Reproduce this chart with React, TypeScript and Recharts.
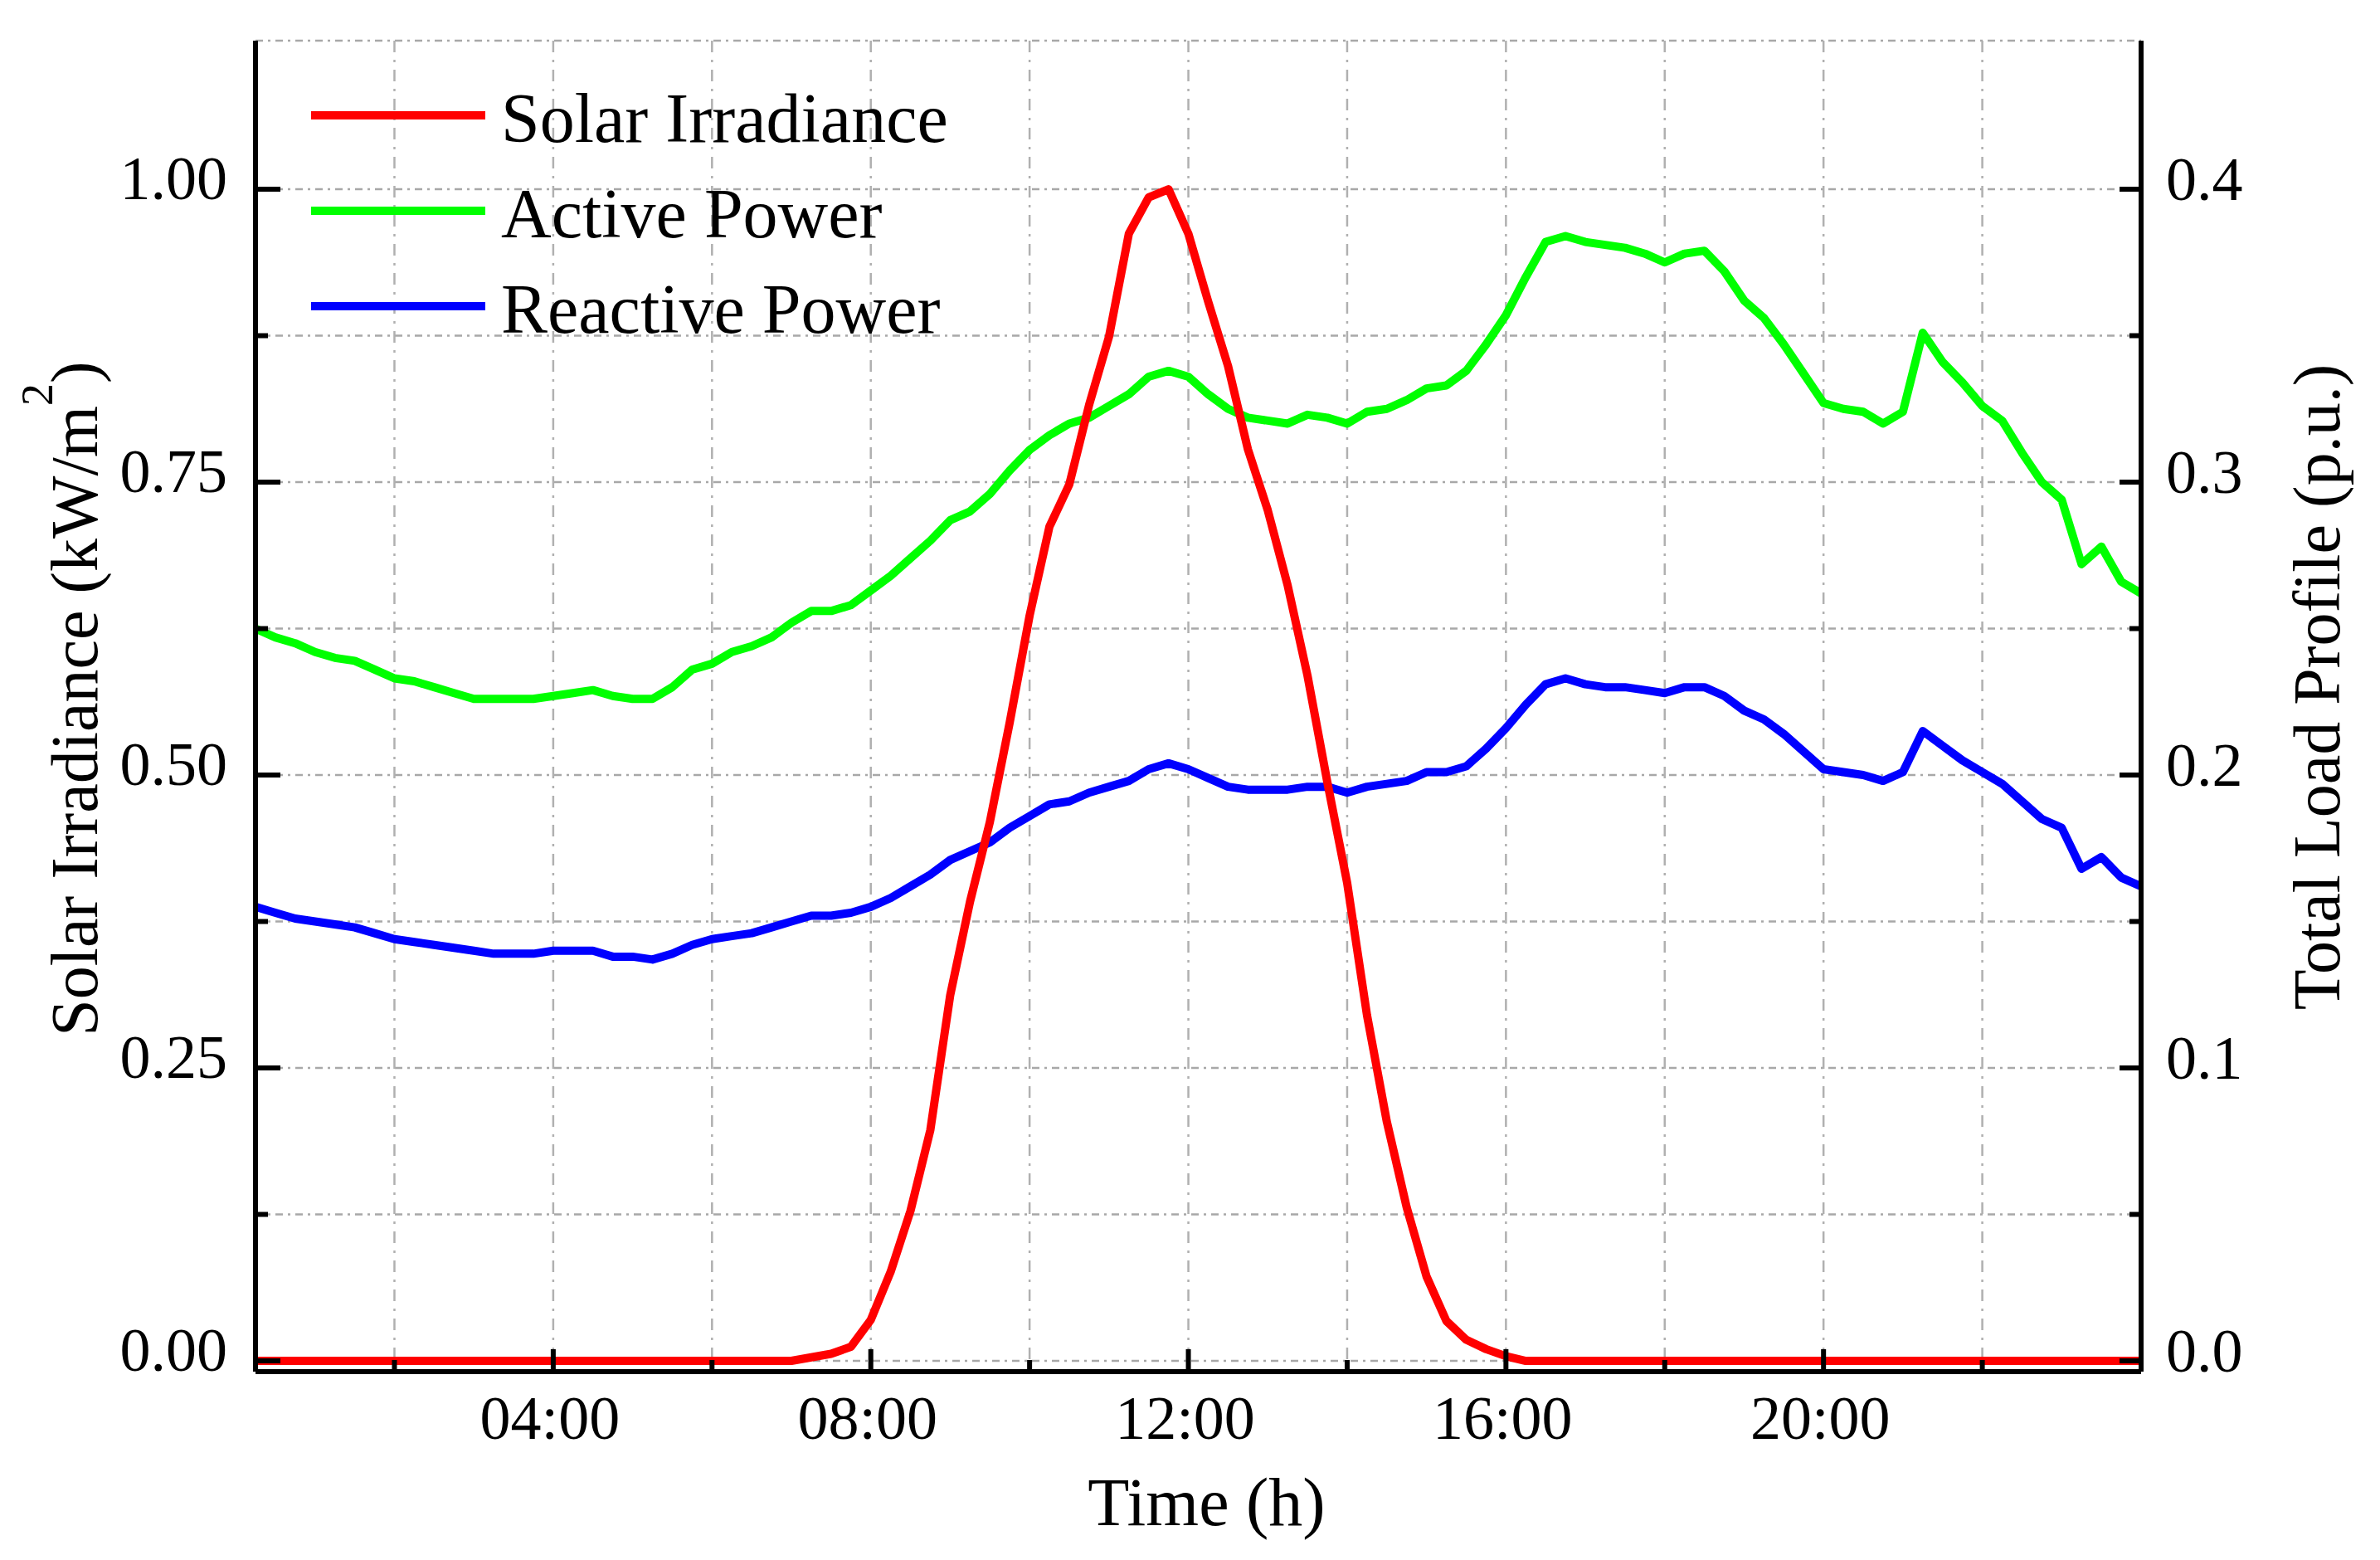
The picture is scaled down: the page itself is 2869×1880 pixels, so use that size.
import React from "react";
import { CartesianGrid, Legend, Line, LineChart, XAxis, YAxis } from "recharts";

const FONT = '"Liberation Serif", "Times New Roman", serif';

// time of day in hours, 15-min steps
const hours = [
  0.25, 0.5, 0.75, 1,
  1.25, 1.5, 1.75, 2,
  2.25, 2.5, 2.75, 3,
  3.25, 3.5, 3.75, 4,
  4.25, 4.5, 4.75, 5,
  5.25, 5.5, 5.75, 6,
  6.25, 6.5, 6.75, 7,
  7.25, 7.5, 7.75, 8,
  8.25, 8.5, 8.75, 9,
  9.25, 9.5, 9.75, 10,
  10.25, 10.5, 10.75, 11,
  11.25, 11.5, 11.75, 12,
  12.25, 12.5, 12.75, 13,
  13.25, 13.5, 13.75, 14,
  14.25, 14.5, 14.75, 15,
  15.25, 15.5, 15.75, 16,
  16.25, 16.5, 16.75, 17,
  17.25, 17.5, 17.75, 18,
  18.25, 18.5, 18.75, 19,
  19.25, 19.5, 19.75, 20,
  20.25, 20.5, 20.75, 21,
  21.25, 21.5, 21.75, 22,
  22.25, 22.5, 22.75, 23,
  23.25, 23.5, 23.75, 24,
];

// kW/m2
const solarIrradiance = [
  0, 0, 0, 0,
  0, 0, 0, 0,
  0, 0, 0, 0,
  0, 0, 0, 0,
  0, 0, 0, 0,
  0, 0, 0, 0,
  0, 0, 0, 0,
  0.003, 0.006, 0.012, 0.035,
  0.076, 0.128, 0.197, 0.312,
  0.392, 0.46, 0.545, 0.636,
  0.712, 0.748, 0.816, 0.874,
  0.962, 0.993, 1.0, 0.962,
  0.904, 0.849, 0.778, 0.726,
  0.662, 0.585, 0.494, 0.408,
  0.295, 0.204, 0.131, 0.072,
  0.034, 0.018, 0.01, 0.004,
  0, 0, 0, 0,
  0, 0, 0, 0,
  0, 0, 0, 0,
  0, 0, 0, 0,
  0, 0, 0, 0,
  0, 0, 0, 0,
  0, 0, 0, 0,
  0, 0, 0, 0,
];

// p.u.
const activePower = [
  0.25, 0.247, 0.245, 0.242,
  0.24, 0.239, 0.236, 0.233,
  0.232, 0.23, 0.228, 0.226,
  0.226, 0.226, 0.226, 0.227,
  0.228, 0.229, 0.227, 0.226,
  0.226, 0.23, 0.236, 0.238,
  0.242, 0.244, 0.247, 0.252,
  0.256, 0.256, 0.258, 0.263,
  0.268, 0.274, 0.28, 0.287,
  0.29, 0.296, 0.304, 0.311,
  0.316, 0.32, 0.322, 0.326,
  0.33, 0.336, 0.338, 0.336,
  0.33, 0.325, 0.322, 0.321,
  0.32, 0.323, 0.322, 0.32,
  0.324, 0.325, 0.328, 0.332,
  0.333, 0.338, 0.347, 0.357,
  0.37, 0.382, 0.384, 0.382,
  0.381, 0.38, 0.378, 0.375,
  0.378, 0.379, 0.372, 0.362,
  0.356, 0.347, 0.337, 0.327,
  0.325, 0.324, 0.32, 0.324,
  0.351, 0.341, 0.334, 0.326,
  0.321, 0.31, 0.3, 0.294,
  0.272, 0.278, 0.266, 0.262,
];

// p.u.
const reactivePower = [
  0.155, 0.153, 0.151, 0.15,
  0.149, 0.148, 0.146, 0.144,
  0.143, 0.142, 0.141, 0.14,
  0.139, 0.139, 0.139, 0.14,
  0.14, 0.14, 0.138, 0.138,
  0.137, 0.139, 0.142, 0.144,
  0.145, 0.146, 0.148, 0.15,
  0.152, 0.152, 0.153, 0.155,
  0.158, 0.162, 0.166, 0.171,
  0.174, 0.177, 0.182, 0.186,
  0.19, 0.191, 0.194, 0.196,
  0.198, 0.202, 0.204, 0.202,
  0.199, 0.196, 0.195, 0.195,
  0.195, 0.196, 0.196, 0.194,
  0.196, 0.197, 0.198, 0.201,
  0.201, 0.203, 0.209, 0.216,
  0.224, 0.231, 0.233, 0.231,
  0.23, 0.23, 0.229, 0.228,
  0.23, 0.23, 0.227, 0.222,
  0.219, 0.214, 0.208, 0.202,
  0.201, 0.2, 0.198, 0.201,
  0.215, 0.21, 0.205, 0.201,
  0.197, 0.191, 0.185, 0.182,
  0.168, 0.172, 0.165, 0.162,
];

const xTicks = [2, 4, 6, 8, 10, 12, 14, 16, 18, 20, 22];
const xTickLabels: Record<number, string> = { 4: "04:00", 8: "08:00", 12: "12:00", 16: "16:00", 20: "20:00" };
const leftTicks = [0, 0.125, 0.25, 0.375, 0.5, 0.625, 0.75, 0.875, 1.0];
const leftLabelled = [0, 0.25, 0.5, 0.75, 1.0];
const rightTicks = [0, 0.05, 0.1, 0.15, 0.2, 0.25, 0.3, 0.35, 0.4];
const rightLabelled = [0, 0.1, 0.2, 0.3, 0.4];
const legendOrder = ["solar", "active", "reactive"];

const rows = hours.map((t, i) => ({
  t,
  solar: solarIrradiance[i],
  active: activePower[i],
  reactive: reactivePower[i],
}));

const W = 2869;
const H = 1880;
const AXIS = 6;
const LINE_W = 10;

function BottomTick(props: any) {
  const { x, y, payload } = props;
  const label = xTickLabels[payload.value];
  return (
    <g>
      <line x1={x} x2={x} y1={y} y2={y - (label ? 27 : 14)} stroke="#000" strokeWidth={AXIS} />
      {label && (
        <text x={x - 4} y={y + 81} textAnchor="middle" fontSize={74} fontFamily={FONT} fill="#000">
          {label}
        </text>
      )}
    </g>
  );
}

function TopTick(props: any) {
  const { x, y } = props;
  return <line x1={x} x2={x} y1={y} y2={y + 27} stroke="#000" strokeWidth={AXIS} />;
}

function LeftTick(props: any) {
  const { x, y, payload } = props;
  const v = payload.value;
  const major = leftLabelled.some((m) => Math.abs(m - v) < 1e-6);
  return (
    <g>
      <line x1={x} x2={x + (major ? 30 : 15)} y1={y} y2={y} stroke="#000" strokeWidth={AXIS} />
      {major && (
        <text x={x - 34} y={y + 12} textAnchor="end" fontSize={74} fontFamily={FONT} fill="#000">
          {v.toFixed(2)}
        </text>
      )}
    </g>
  );
}

function RightTick(props: any) {
  const { x, y, payload } = props;
  const v = payload.value;
  const major = rightLabelled.some((m) => Math.abs(m - v) < 1e-6);
  return (
    <g>
      <line x1={x} x2={x - (major ? 26 : 14)} y1={y} y2={y} stroke="#000" strokeWidth={AXIS} />
      {major && (
        <text x={x + 30} y={y + 13} textAnchor="start" fontSize={74} fontFamily={FONT} fill="#000">
          {v.toFixed(1)}
        </text>
      )}
    </g>
  );
}

function renderLegend(props: any) {
  const items = [...(props.payload ?? [])].sort(
    (a: any, b: any) => legendOrder.indexOf(a.dataKey) - legendOrder.indexOf(b.dataKey),
  );
  return (
    <svg width={720} height={340} style={{ overflow: "visible" }}>
      {items.map((e: any, i: number) => (
        <g key={e.dataKey}>
          <line x1={15} x2={225} y1={59 + 115 * i} y2={59 + 115 * i} stroke={e.color} strokeWidth={LINE_W} />
          <text x={244} y={91 + 115 * i} fontSize={84} fontFamily={FONT} fill="#000">
            {e.value}
          </text>
        </g>
      ))}
    </svg>
  );
}

const timeTitle = (p: any) => {
  const vb = p.viewBox ?? { x: 308, y: 1653, width: 2273, height: 227 };
  return (
    <text x={vb.x + vb.width / 2 + 10} y={vb.y + 185} textAnchor="middle" fontSize={82} fontFamily={FONT} fill="#000">
      Time (h)
    </text>
  );
};

const leftTitle = (p: any) => {
  const vb = p.viewBox ?? { x: 0, y: 49, width: 308, height: 1604 };
  const cx = vb.x + 117;
  const cy = vb.y + vb.height / 2 - 9;
  return (
    <text transform={`translate(${cx},${cy}) rotate(-90)`} textAnchor="middle" fontSize={80} fontFamily={FONT} fill="#000">
      Solar Irradiance (kW/m
      <tspan dy={-54} fontSize={54}>
        2
      </tspan>
      <tspan dy={54}>)</tspan>
    </text>
  );
};

const rightTitle = (p: any) => {
  const vb = p.viewBox ?? { x: 2581, y: 49, width: 288, height: 1604 };
  const cx = vb.x + 239;
  const cy = vb.y + vb.height / 2 - 23;
  return (
    <text transform={`translate(${cx},${cy}) rotate(-90)`} textAnchor="middle" fontSize={80} fontFamily={FONT} fill="#000">
      Total Load Profile (p.u.)
    </text>
  );
};

export default function App() {
  return (
    <div style={{ position: "absolute", left: 0, top: 0, width: W, height: H, background: "#fff", fontFamily: FONT }}>
      <LineChart width={W} height={H} data={rows} margin={{ top: 49, right: 0, bottom: 0, left: 0 }}>
        <CartesianGrid
          xAxisId="bottom"
          yAxisId="left"
          vertical={false}
          stroke="#a8a8a8"
          strokeWidth={2.5}
          strokeDasharray="9 6 3 6"
        />
        <CartesianGrid
          xAxisId="bottom"
          yAxisId="left"
          horizontal={false}
          stroke="#b0b0b0"
          strokeWidth={2.5}
          strokeDasharray="14 9 3 9"
        />
        <XAxis
          xAxisId="bottom"
          dataKey="t"
          type="number"
          domain={[0.25, 24]}
          ticks={xTicks}
          interval={0}
          height={227}
          allowDataOverflow
          axisLine={{ stroke: "#000", strokeWidth: AXIS }}
          tickLine={false}
          tickSize={0}
          tickMargin={0}
          tick={<BottomTick />}
          label={{ content: timeTitle }}
        />
        <XAxis
          xAxisId="top"
          orientation="top"
          dataKey="t"
          type="number"
          domain={[0.25, 24]}
          ticks={xTicks}
          interval={0}
          height={0}
          allowDataOverflow
          axisLine={{ stroke: "#000", strokeWidth: AXIS }}
          tickLine={false}
          tickSize={0}
          tickMargin={0}
          tick={<TopTick />}
        />
        <YAxis
          yAxisId="left"
          width={308}
          type="number"
          domain={[-0.0092, 1.1268]}
          ticks={leftTicks}
          interval={0}
          allowDataOverflow
          axisLine={{ stroke: "#000", strokeWidth: AXIS }}
          tickLine={false}
          tickSize={0}
          tickMargin={0}
          tick={<LeftTick />}
          label={{ content: leftTitle }}
        />
        <YAxis
          yAxisId="right"
          orientation="right"
          width={288}
          type="number"
          domain={[-0.00368, 0.45072]}
          ticks={rightTicks}
          interval={0}
          allowDataOverflow
          axisLine={{ stroke: "#000", strokeWidth: AXIS }}
          tickLine={false}
          tickSize={0}
          tickMargin={0}
          tick={<RightTick />}
          label={{ content: rightTitle }}
        />
        <Legend
          layout="vertical"
          align="center"
          verticalAlign="middle"
          wrapperStyle={{ left: 360, top: 80, width: 720, height: 340 }}
          content={renderLegend}
        />
        <Line
          xAxisId="bottom"
          yAxisId="right"
          dataKey="active"
          name="Active Power"
          type="linear"
          stroke="#00ff00"
          strokeWidth={LINE_W}
          strokeLinejoin="round"
          dot={false}
          activeDot={false}
          isAnimationActive={false}
        />
        <Line
          xAxisId="bottom"
          yAxisId="right"
          dataKey="reactive"
          name="Reactive Power"
          type="linear"
          stroke="#0000ff"
          strokeWidth={LINE_W}
          strokeLinejoin="round"
          dot={false}
          activeDot={false}
          isAnimationActive={false}
        />
        <Line
          xAxisId="bottom"
          yAxisId="left"
          dataKey="solar"
          name="Solar Irradiance"
          type="linear"
          stroke="#ff0000"
          strokeWidth={LINE_W}
          strokeLinejoin="round"
          dot={false}
          activeDot={false}
          isAnimationActive={false}
        />
      </LineChart>
    </div>
  );
}
